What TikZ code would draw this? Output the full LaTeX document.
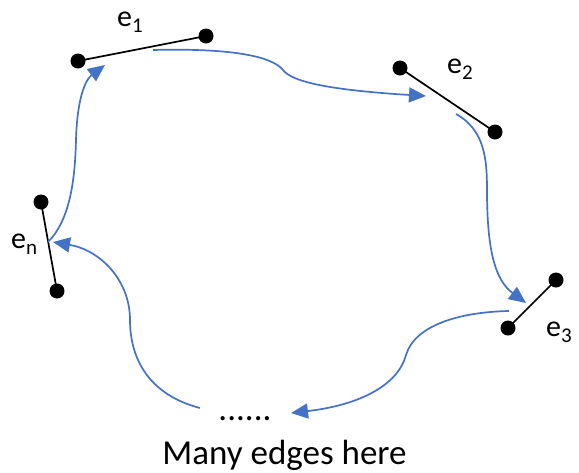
\documentclass[tikz,border=0pt]{standalone}
\usepackage{fontspec}
\setmainfont{Carlito}
\usetikzlibrary{arrows.meta}
\definecolor{walkblue}{HTML}{4472C4}
\tikzset{
  vertex/.style={circle,fill=black,inner sep=0pt,minimum size=15pt},
  edgeline/.style={line width=1.7pt,draw=black},
  walk/.style={-{Triangle[length=17pt,width=15pt]},line width=1.7pt,draw=walkblue},
  elabel/.style={inner sep=0pt,anchor=base west,font=\fontsize{30}{30}\selectfont},
  caption/.style={inner sep=0pt,anchor=base,font=\fontsize{35}{40}\selectfont}
}
\newcommand{\esub}[1]{e\raisebox{-6pt}{\fontsize{21}{21}\selectfont #1}}

\begin{document}
\begin{tikzpicture}[x=1pt,y=-1pt]
\useasboundingbox (0,0) rectangle (579,472);
% the edges
\node[vertex] (e1a) at (78,61) {};
\node[vertex] (e1b) at (206,36) {};
\node[vertex] (e2a) at (400,68) {};
\node[vertex] (e2b) at (495,132) {};
\node[vertex] (e3a) at (556,280) {};
\node[vertex] (e3b) at (508,328) {};
\node[vertex] (ena) at (41,202) {};
\node[vertex] (enb) at (57,291) {};
\draw[edgeline] (e1a.center) -- (e1b.center);
\draw[edgeline] (e2a.center) -- (e2b.center);
\draw[edgeline] (e3a.center) -- (e3b.center);
\draw[edgeline] (ena.center) -- (enb.center);
\node[elabel] (l1) at (117,26) {\esub{1}};
\node[elabel] (l2) at (447,73) {\esub{2}};
\node[elabel] (l3) at (546,336) {\esub{3}};
\node[elabel] (ln) at (11,248) {\esub{n}};
\node[caption] (dots) at (245,420) {......};
\node[caption] (many) at (284.5,464) {Many edges here};
% the walk
\coordinate (w1) at (153,50);
\coordinate (t1) at (426,96);
\coordinate (w2) at (456,114);
\coordinate (t2) at (526,303);
\coordinate (w3) at (509,311);
\coordinate (t3) at (291,413);
\coordinate (w4) at (200,408);
\coordinate (t4) at (53,242);
\coordinate (w5) at (48,242);
\coordinate (t5) at (105,65);
\draw[walk] (w1) .. controls (230,48) and (272,56) .. (283,70)
  .. controls (292,82) and (330,90) .. (t1);
\draw[walk] (w2) .. controls (485,130) and (487,160) .. (487,190)
  .. controls (487,250) and (495,280) .. (t2);
\draw[walk] (w3) .. controls (460,312) and (415,325) .. (406,355)
  .. controls (398,385) and (360,405) .. (t3);
\draw[walk] (w4) .. controls (150,395) and (130,360) .. (130,320)
  .. controls (130,280) and (100,250) .. (t4);
\draw[walk] (w5) .. controls (70,220) and (75,180) .. (76,140)
  .. controls (77,100) and (85,80) .. (t5);
\end{tikzpicture}
\end{document}
